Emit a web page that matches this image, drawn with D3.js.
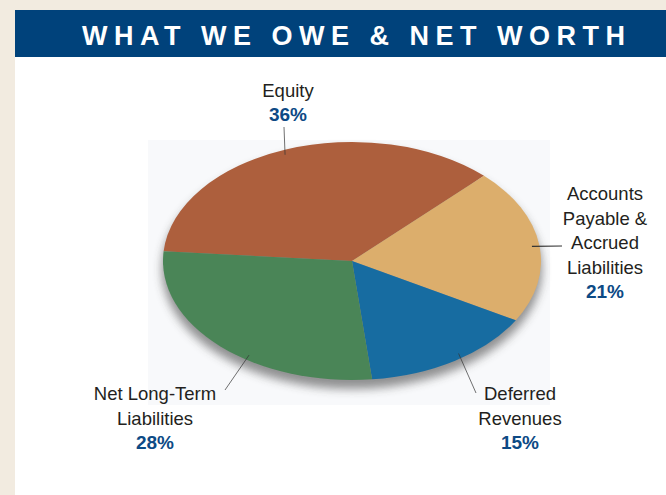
<!DOCTYPE html>
<html>
<head>
<meta charset="utf-8">
<script src="https://cdn.jsdelivr.net/npm/d3@7"></script>
<style>
  body { margin: 0; background: #fff; }
  svg { display: block; }
  .lbl { font-family: "Liberation Sans", Arial, sans-serif; font-size: 18.5px; fill: #231f20; }
  .pct { font-family: "Liberation Sans", Arial, sans-serif; font-size: 19px; font-weight: bold; fill: #0d4a85; }
</style>
</head>
<body>
<svg id="chart" width="666" height="495"></svg>
<script>
var title = "WHAT WE OWE & NET WORTH";
var categories = ["Equity", "Accounts Payable & Accrued Liabilities", "Deferred Revenues", "Net Long-Term Liabilities"];
var values = [36, 21, 15, 28];
var labelLines = [["Equity"], ["Accounts", "Payable &", "Accrued", "Liabilities"], ["Deferred", "Revenues"], ["Net Long-Term", "Liabilities"]];

var colors = d3.scaleOrdinal().domain(categories).range(["#ad5f3d", "#dcae6c", "#176ca1", "#4a8557"]);

var svg = d3.select("#chart"),
    width = +svg.attr("width"),
    height = +svg.attr("height");

// page frame
svg.append("rect").attr("width", width).attr("height", height).attr("fill", "#f2ebe0");
svg.append("rect").attr("x", 15).attr("y", 10).attr("width", width - 15).attr("height", height - 10).attr("fill", "#fff");
svg.append("rect").attr("x", 15).attr("y", 10).attr("width", width - 15).attr("height", 47).attr("fill", "#00427b");
svg.append("text")
    .attr("x", 82).attr("y", 45)
    .attr("textLength", 543).attr("lengthAdjust", "spacing")
    .style("font-family", "'Liberation Sans', Arial, sans-serif")
    .style("font-weight", "bold").style("font-size", "27px")
    .attr("fill", "#fff")
    .text(title);

// pale plate behind the pie
svg.append("rect").attr("x", 148).attr("y", 140).attr("width", 402).attr("height", 265).attr("fill", "#f8f9fb");

var cx = 352, cy = 261, rx = 189, ry = 119;
var start = -85.3 * Math.PI / 180;

var pie = d3.pie()
    .sort(null)
    .value(function(d) { return d.value; })
    .startAngle(start)
    .endAngle(start + 2 * Math.PI);

var arc = d3.arc().innerRadius(0).outerRadius(rx);

var data = categories.map(function(c, i) { return { name: c, value: values[i], lines: labelLines[i] }; });
var arcs = pie(data);

// drop shadow
var defs = svg.append("defs");
defs.append("filter").attr("id", "blur").attr("x", "-20%").attr("y", "-20%").attr("width", "140%").attr("height", "140%")
  .append("feGaussianBlur").attr("stdDeviation", 5);
svg.append("ellipse")
    .attr("cx", cx).attr("cy", cy + 8).attr("rx", rx + 1).attr("ry", ry + 1)
    .attr("fill", "#3a3a3a").attr("opacity", 0.55)
    .attr("filter", "url(#blur)");

var graph = svg.append("g")
    .attr("transform", "translate(" + cx + "," + cy + ") scale(1," + (ry / rx) + ")");

graph.selectAll("path")
    .data(arcs)
  .enter().append("path")
    .attr("fill", function(d) { return colors(d.data.name); })
    .attr("d", arc);

// labels: text anchor and leader end per slice
var labelLayout = [
  { x: 288, y: 97,  leader: [284, 127], rim: -0.02 },
  { x: 605, y: 200, leader: [562, 246], rim: 0.01 },
  { x: 520, y: 400, leader: [476, 393], rim: -0.05 },
  { x: 155, y: 400, leader: [225, 390], rim: -0.17 }
];
var lineH = 24.5;

function rimPoint(a, k) {
  return [cx + k * rx * Math.sin(a), cy - k * ry * Math.cos(a)];
}

arcs.forEach(function(d, i) {
  var L = labelLayout[i];
  var mid = (d.startAngle + d.endAngle) / 2 + L.rim;
  var p = rimPoint(mid, 0.96);
  svg.append("line")
      .attr("x1", L.leader[0]).attr("y1", L.leader[1])
      .attr("x2", p[0]).attr("y2", p[1])
      .attr("stroke", "#333").attr("stroke-width", i === 1 ? 1.2 : 0.7);

  var t = svg.append("g");
  d.data.lines.forEach(function(s, j) {
    t.append("text").attr("class", "lbl")
        .attr("x", L.x).attr("y", L.y + j * lineH)
        .attr("text-anchor", "middle")
        .text(s);
  });
  t.append("text").attr("class", "pct")
      .attr("x", L.x).attr("y", L.y + d.data.lines.length * lineH - 0.5)
      .attr("text-anchor", "middle")
      .text(d.data.value + "%");
});
</script>
</body>
</html>
